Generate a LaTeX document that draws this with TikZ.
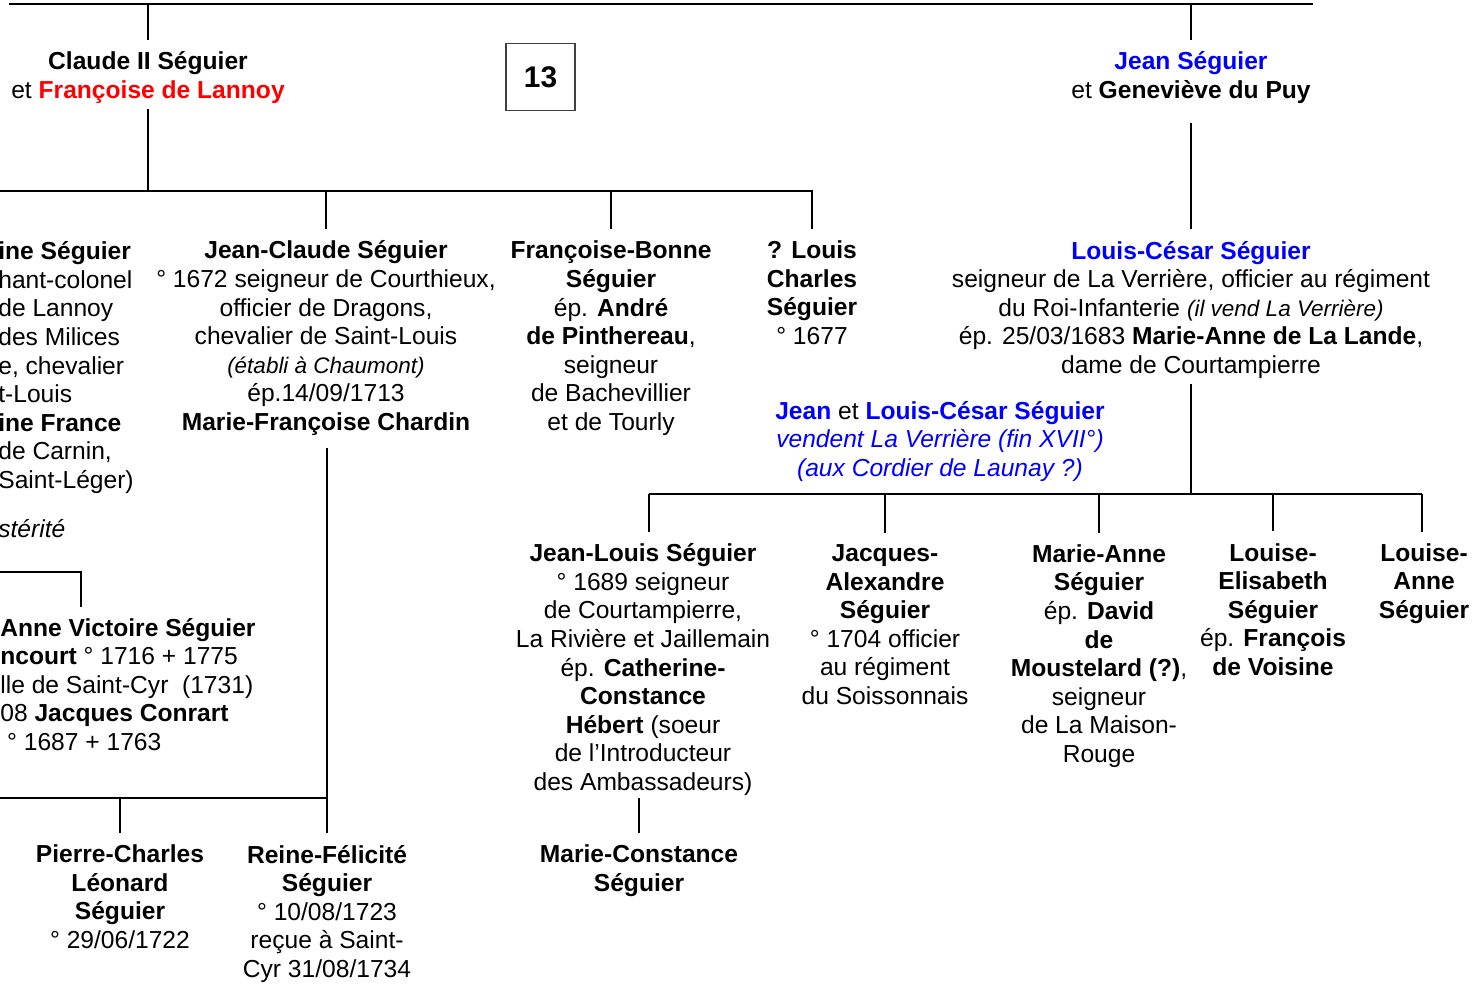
\documentclass[tikz,border=0pt]{standalone}
\usepackage{fontspec}
\setmainfont{Liberation Sans}
\usetikzlibrary{positioning,calc}
\newcommand{\petit}[1]{{\fontsize{12.8}{16.3}\selectfont\itshape #1}}
\newcommand{\bleu}[1]{\textcolor{blue}{#1}}

\begin{document}
\begin{tikzpicture}[x=0.02cm,y=-0.02cm,
  person/.style={align=center,inner sep=0pt,anchor=base,font=\fontsize{14}{16.3}\selectfont},
  leftcut/.style={person,align=left,anchor=base west},
  tie/.style={line width=1.5pt},
  tonode/.style={tie,shorten >=6.5pt},
  fromnode/.style={tie,shorten <=3pt}]
\useasboundingbox (0,0) rectangle (1479,989);
% Generation of Claude II and Jean (nodes placed by the baseline of their last line)
\node[person] (claude) at (148,98.5) {\textbf{Claude II Séguier}\\ et \textcolor{red}{\textbf{Françoise de Lannoy}}};
\node[draw=black!75,line width=0.6pt,minimum width=1.38cm,minimum height=1.34cm,
  font=\fontsize{17}{20}\selectfont\bfseries] (num) at (540.5,77) {13};
\node[person] (jeanseg) at (1191,98.5) {\bleu{\textbf{Jean Séguier}}\\ et \textbf{Geneviève du Puy}};
% Children of Claude II
\node[leftcut] (aine) at (-2,488.6) {\textbf{ine Séguier}\\ hant-colonel\\ de Lannoy\\ des Milices\\
  e, chevalier\\ t-Louis\\ \textbf{ine France}\\ de Carnin,\\ Saint-Léger)};
\node[leftcut,font=\fontsize{14}{16.3}\selectfont\itshape] (posterite) at (-2,537) {stérité};
\node[person] (jeanclaude) at (326,430.6) {\textbf{Jean-Claude Séguier}\\ ° 1672 seigneur de Courthieux,\\
  officier de Dragons,\\ chevalier de Saint-Louis\\ \petit{(établi à Chaumont)}\\ ép.14/09/1713\\
  \textbf{Marie-Françoise Chardin}};
\node[person] (francoise) at (611,430.6) {\textbf{Françoise-Bonne}\\ \textbf{Séguier}\\ ép. \textbf{André}\\
  \textbf{de Pinthereau},\\ seigneur\\ de Bachevillier\\ et de Tourly};
\node[person] (louischarles) at (812,344.6) {\textbf{? Louis}\\ \textbf{Charles}\\ \textbf{Séguier}\\ ° 1677};
% Son of Jean
\node[person] (louiscesar) at (1191,373.6) {\bleu{\textbf{Louis-César Séguier}}\\
  seigneur de La Verrière, officier au régiment\\ du Roi-Infanterie \petit{(il vend La Verrière)}\\
  ép. 25/03/1683 \textbf{Marie-Anne de La Lande},\\ dame de Courtampierre};
\node[person] (vente) at (940,476.6) {\bleu{\textbf{Jean}} et \bleu{\textbf{Louis-César Séguier}}\\
  \bleu{\itshape vendent La Verrière (fin XVII°)}\\ \bleu{\itshape (aux Cordier de Launay ?)}};
% Grandchildren
\node[leftcut] (annevic) at (0,750.6) {\textbf{Anne Victoire Séguier}\\ \textbf{ncourt} ° 1716 + 1775\\
  lle de Saint-Cyr~~(1731)\\ 08 \textbf{Jacques Conrart}\\ \ ° 1687 + 1763};
\node[person] (jeanlouis) at (643,790.6) {\textbf{Jean-Louis Séguier}\\ ° 1689 seigneur\\ de Courtampierre,\\
  La Rivière et Jaillemain\\ ép. \textbf{Catherine-}\\ \textbf{Constance}\\ \textbf{Hébert} (soeur\\
  de l’Introducteur\\ des Ambassadeurs)};
\node[person] (jacques) at (885,704.6) {\textbf{Jacques-}\\ \textbf{Alexandre}\\ \textbf{Séguier}\\
  ° 1704 officier\\ au régiment\\ du Soissonnais};
\node[person] (marieanne) at (1099,762.6) {\textbf{Marie-Anne}\\ \textbf{Séguier}\\ ép. \textbf{David}\\
  \textbf{de}\\ \textbf{Moustelard (?)},\\ seigneur\\ de La Maison-\\ Rouge};
\node[person] (louiseeli) at (1273,675.6) {\textbf{Louise-}\\ \textbf{Elisabeth}\\ \textbf{Séguier}\\
  ép. \textbf{François}\\ \textbf{de Voisine}};
\node[person] (louiseanne) at (1424,618.6) {\textbf{Louise-}\\ \textbf{Anne}\\ \textbf{Séguier}};
\node[person] (pierrecharles) at (120,948.6) {\textbf{Pierre-Charles}\\ \textbf{Léonard}\\ \textbf{Séguier}\\ ° 29/06/1722};
\node[person] (reine) at (327,977.6) {\textbf{Reine-Félicité}\\ \textbf{Séguier}\\ ° 10/08/1723\\
  reçue à Saint-\\ Cyr 31/08/1734};
\node[person] (marieconst) at (639,891.6) {\textbf{Marie-Constance}\\ \textbf{Séguier}};
% Bars of the tree
\coordinate (haut) at (9,4);
\coordinate (hautfin) at (1313,4);
\coordinate (barA) at (0,191);
\coordinate (barB) at (649,494);
\coordinate (barBfin) at (1422,494);
\coordinate (barC) at (0,798);
\coordinate (barD) at (0,572);
\coordinate (barDfin) at (81,572);
\coordinate (barDbas) at (81,607);
\draw[tie] (haut) -- (hautfin);
\draw[tonode] (claude.north |- haut) -- (claude.north);
\draw[tonode] (jeanseg.north |- haut) -- (jeanseg.north);
\draw[fromnode] (claude.south) -- (claude.south |- barA);
\draw[tonode] (barA) -- (barA -| louischarles.north) -- (louischarles.north);
\draw[tonode] (jeanclaude.north |- barA) -- (jeanclaude.north);
\draw[tonode] (francoise.north |- barA) -- (francoise.north);
\draw[tie,shorten <=11pt,shorten >=6.5pt] (jeanseg.south) -- (louiscesar.north);
\draw[fromnode] (louiscesar.south) -- (louiscesar.south |- barB);
\draw[tie] (barB) -- (barBfin);
\draw[tonode] (barB) -- (barB |- jeanlouis.north);
\draw[tonode] (jacques.north |- barB) -- (jacques.north);
\draw[tonode] (marieanne.north |- barB) -- (marieanne.north);
\draw[tonode] (louiseeli.north |- barB) -- (louiseeli.north);
\draw[tonode] (barBfin) -- (barBfin |- louiseanne.north);
\draw[tie,shorten <=7pt,shorten >=6.5pt] (jeanclaude.south -| reine.north) -- (reine.north);
\draw[tie] (barC) -- (barC -| reine.north);
\draw[tonode] (pierrecharles.north |- barC) -- (pierrecharles.north);
\draw[tie,shorten <=1pt,shorten >=6.5pt] (jeanlouis.south -| marieconst.north) -- (marieconst.north);
\draw[tie] (barD) -- (barDfin) -- (barDbas);
\end{tikzpicture}
\end{document}
